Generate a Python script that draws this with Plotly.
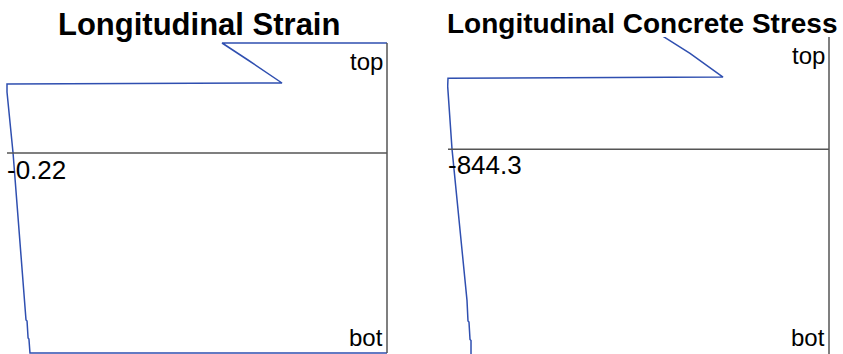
import plotly.graph_objects as go

# section depth (mm, from top) shared by both profiles
depth = [0, 0, 85, 200, 205, 245, 550, 1285, 1385, 1390, 1475, 1480, 1550, 1550]

# longitudinal strain (x10^-3) and concrete stress along the depth
strain = [0, -0.0955, -0.0805, -0.0608, -0.22, -0.22, -0.2165, -0.2096,
          -0.2090, -0.2084, -0.2078, -0.2073, -0.2067, 0]
stress = [0, -369.0, -308.0, -234.9, -844.3, -845.0, -835.4, -802.2,
          -800.0, -797.8, -795.5, -793.3, -793.3, 0]

titles = ["Longitudinal Strain", "Longitudinal Concrete Stress"]
min_labels = ["-0.22", "-844.3"]
centroid_depth = 550
W, H = 843, 354

BLUE = "#2f4fb0"
GREY = "#555555"
FONT = "Liberation Sans, Arial, sans-serif"

fig = go.Figure()

fig.add_trace(go.Scatter(x=strain, y=depth, mode="lines", xaxis="x", yaxis="y",
                         line=dict(color=BLUE, width=1.5), hoverinfo="skip"))
fig.add_trace(go.Scatter(x=stress, y=depth, mode="lines", xaxis="x2", yaxis="y2",
                         line=dict(color=BLUE, width=1.5), hoverinfo="skip"))

px_s = 0.22 / 380
px_f = 844.3 / 381

fig.update_layout(
    width=W, height=H,
    margin=dict(l=0, r=0, t=0, b=0),
    paper_bgcolor="white", plot_bgcolor="white",
    showlegend=False,
    xaxis=dict(domain=[6 / W, 388 / W], range=[-0.22 - px_s, px_s], visible=False),
    yaxis=dict(domain=[0, 1 - 42 / H], range=[1555, -5], visible=False),
    xaxis2=dict(domain=[447 / W, 830 / W], range=[-844.3 - px_f, px_f],
                anchor="y2", visible=False),
    yaxis2=dict(domain=[0, 1 - 37 / H], range=[1545.6, 5], anchor="x2", visible=False),
)

for xa, ya, lo in [("x", "y", -0.22), ("x2", "y2", -844.3)]:
    # centroid line
    fig.add_shape(type="line", xref=xa, yref=ya, x0=lo, x1=0,
                  y0=centroid_depth, y1=centroid_depth,
                  line=dict(color=GREY, width=1.5))
    # right border
    fig.add_shape(type="line", xref=xa, yref=ya, x0=0, x1=0,
                  y0=0, y1=1550, line=dict(color=GREY, width=1.5))

# labels
lab = dict(showarrow=False, font=dict(family=FONT, size=24, color="black"))
num = dict(showarrow=False, font=dict(family=FONT, size=26, color="black"))
fig.add_annotation(x=0, y=90, xref="x", yref="y", text="top",
                   xanchor="right", yanchor="middle", xshift=-2, **lab)
fig.add_annotation(x=0, y=1470, xref="x", yref="y", text="bot",
                   xanchor="right", yanchor="middle", xshift=-2, **lab)
fig.add_annotation(x=-0.22, y=635, xref="x", yref="y", text=min_labels[0],
                   xanchor="left", yanchor="middle", xshift=-2, **num)
fig.add_annotation(x=0, y=97, xref="x2", yref="y2", text="top",
                   xanchor="right", yanchor="middle", xshift=-2, **lab)
fig.add_annotation(x=0, y=1463, xref="x2", yref="y2", text="bot",
                   xanchor="right", yanchor="middle", xshift=-2, **lab)
fig.add_annotation(x=-844.3, y=627, xref="x2", yref="y2", text=min_labels[1],
                   xanchor="left", yanchor="middle", xshift=-2, **num)

# titles
fig.add_annotation(x=198.5 / W, y=1 - 24 / H, xref="paper", yref="paper",
                   text="<b>%s</b>" % titles[0], showarrow=False,
                   xanchor="center", yanchor="middle",
                   font=dict(family=FONT, size=31, color="black"))
fig.add_annotation(x=642.5 / W, y=1 - 23 / H, xref="paper", yref="paper",
                   text="<b>%s</b>" % titles[1], showarrow=False,
                   xanchor="center", yanchor="middle",
                   font=dict(family=FONT, size=28, color="black"))

# drop the default page margin so the figure sits at the window's corner
fig.write_html("out.html", config={"displayModeBar": False},
               post_script="document.body.style.margin='0';")
